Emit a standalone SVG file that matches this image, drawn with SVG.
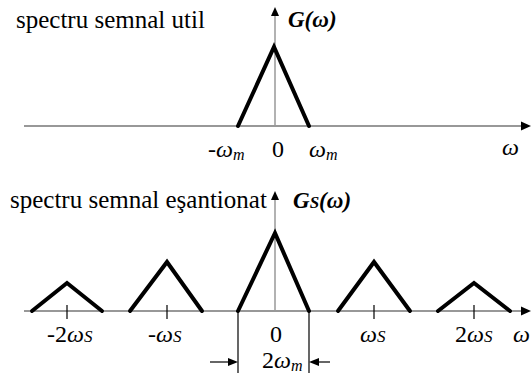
<svg xmlns="http://www.w3.org/2000/svg" width="531" height="373" viewBox="0 0 531 373">
<style>
.serif{font-family:"Liberation Serif","Times New Roman",serif}
.ax{stroke:#333;stroke-width:1.2;fill:none}
.vx{stroke:#999;stroke-width:1.5;fill:none}
.tri{stroke:#000;stroke-width:4;fill:none;stroke-linecap:round}
.tk{stroke:#000;stroke-width:1.2}
.dl{stroke:#000;stroke-width:1.2;fill:none}
.hd{fill:#000}
</style>
<g id="connectors">
<line class="ax" x1="24" y1="126" x2="522" y2="126"/>
<line class="ax" x1="24" y1="311" x2="522" y2="311"/>
<line class="vx" x1="275" y1="126" x2="275" y2="15"/>
<line class="vx" x1="275" y1="311" x2="275" y2="199"/>
<line class="dl" x1="238" y1="311" x2="238" y2="373"/>
<line class="dl" x1="309" y1="311" x2="309" y2="373"/>
<line class="dl" x1="210" y1="362" x2="230" y2="362"/>
<line class="dl" x1="330" y1="362" x2="317" y2="362"/>
<polygon class="hd" points="531,126 521,121.5 521,130.5"/>
<polygon class="hd" points="275,7 271,16 279,16"/>
<polygon class="hd" points="531,311 521,306.5 521,315.5"/>
<polygon class="hd" points="275,191 271,200 279,200"/>
<polygon class="hd" points="238,362 228,358 228,366"/>
<polygon class="hd" points="309,362 319,358 319,366"/>
</g>
<g id="spectrum-util"><polyline class="tri" points="238,126 274,47 309,126"/></g>
<g id="spectrum-m2"><polyline class="tri" points="32,311 67,283 102,311"/><line class="tk" x1="67" y1="305" x2="67" y2="319"/></g>
<g id="spectrum-m1"><polyline class="tri" points="130,311 167,262 202,311"/><line class="tk" x1="167" y1="305" x2="167" y2="319"/></g>
<g id="spectrum-0"><polyline class="tri" points="238,311 275,233 309,311"/></g>
<g id="spectrum-p1"><polyline class="tri" points="338,311 374,262 410,311"/><line class="tk" x1="374" y1="305" x2="374" y2="319"/></g>
<g id="spectrum-p2"><polyline class="tri" points="438,311 474,283 510,311"/><line class="tk" x1="474" y1="305" x2="474" y2="319"/></g>
<g id="title-util"><text class="serif" font-size="25" x="16" y="28">spectru semnal util</text></g>
<g id="label-G"><text class="serif" font-size="23" font-style="italic" font-weight="bold" x="288" y="27">G(&#969;)</text></g>
<g id="labels-top">
<text class="serif" font-size="24" font-style="italic" x="208" y="157">-&#969;<tspan font-size="16" dy="3">m</tspan></text>
<text class="serif" font-size="24" x="272" y="157">0</text>
<text class="serif" font-size="24" font-style="italic" x="309" y="157">&#969;<tspan font-size="16" dy="3">m</tspan></text>
<text class="serif" font-size="24" font-style="italic" x="502" y="155">&#969;</text>
</g>
<g id="title-esantionat"><text class="serif" font-size="25" x="10" y="208">spectru semnal e&#351;antionat</text></g>
<g id="label-Gs"><text class="serif" font-size="23" font-style="italic" font-weight="bold" x="293" y="208">G<tspan font-size="17">S</tspan>(&#969;)</text></g>
<g id="labels-bottom">
<text class="serif" font-size="24" x="47" y="342">-2<tspan font-style="italic">&#969;</tspan><tspan font-style="italic" font-size="17">S</tspan></text>
<text class="serif" font-size="24" font-style="italic" x="148" y="342">-&#969;<tspan font-size="17">S</tspan></text>
<text class="serif" font-size="24" x="270" y="342">0</text>
<text class="serif" font-size="24" font-style="italic" x="360" y="342">&#969;<tspan font-size="17">S</tspan></text>
<text class="serif" font-size="24" x="455" y="342">2<tspan font-style="italic">&#969;</tspan><tspan font-style="italic" font-size="17">S</tspan></text>
<text class="serif" font-size="24" font-style="italic" x="513" y="342">&#969;</text>
<text class="serif" font-size="24" x="262" y="368">2<tspan font-style="italic">&#969;</tspan><tspan font-style="italic" font-size="16" dy="3">m</tspan></text>
</g>
</svg>
